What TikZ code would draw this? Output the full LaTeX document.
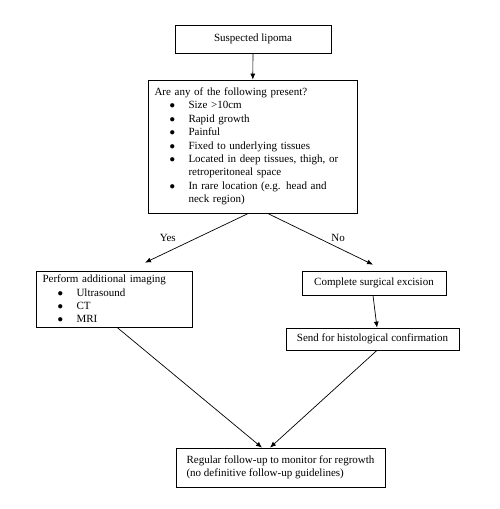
\documentclass[tikz,border=0pt]{standalone}
\usepackage{fontspec}
\setmainfont{Liberation Serif}
\usetikzlibrary{arrows.meta}
\newcommand{\blt}[1]{\hspace*{15pt}\makebox[19pt][l]{$\bullet$}#1}
\begin{document}
\begin{tikzpicture}[x=1pt, y=-1pt, line width=0.7pt,
  every node/.style={font=\fontsize{11}{13.4}\selectfont},
  box/.style={draw, inner xsep=6.5pt, inner ysep=3pt},
  arr/.style={-{Latex[length=6pt, width=5pt]}}]
\useasboundingbox (0,0) rectangle (500,509);
% boxes
\node[box, minimum width=156pt, minimum height=28pt] (susp) at (253,39) {Suspected lipoma};
\node[box, text width=196pt, align=left, minimum height=133pt] (ask) at (252.5,146.5)
  {Are any of the following present?\\
   \blt{Size >10cm}\\
   \blt{Rapid growth}\\
   \blt{Painful}\\
   \blt{Fixed to underlying tissues}\\
   \blt{Located in deep tissues, thigh, or}\\
   \hspace*{34pt}retroperitoneal space\\
   \blt{In rare location (e.g. head and}\\
   \hspace*{34pt}neck region)};
\node[box, text width=143pt, align=left, minimum height=56pt] (img) at (114,299)
  {Perform additional imaging\\
   \blt{Ultrasound}\\
   \blt{CT}\\
   \blt{MRI}};
\node[box, minimum width=144pt, minimum height=24pt] (exc) at (374,283) {Complete surgical excision};
\node[box, minimum width=173pt, minimum height=22pt] (hist) at (372.5,339) {Send for histological confirmation};
\node[box, align=left, minimum width=209pt, minimum height=39pt] (fup) at (280.5,467.5)
  {Regular follow-up to monitor for regrowth\\
   (no definitive follow-up guidelines)};
% connectors
\draw[arr] (susp) -- (ask);
\draw[arr] ([xshift=-4pt]ask.south) -- ([xshift=31pt, yshift=8pt]img.north)
  node[pos=0.78, above, inner sep=6pt, yshift=4pt] (yes) {Yes};
\draw[arr] ([xshift=15pt]ask.south) -- ([xshift=-1pt, yshift=6pt]exc.north)
  node[pos=0.67, above, inner sep=6pt] (no) {No};
\draw[arr] ([xshift=-1pt]exc.south) -- ([xshift=4.5pt]hist.north);
\draw[arr] ([xshift=3pt]img.south) -- ([xshift=-18.5pt]fup.north);
\draw[arr] ([xshift=4.5pt]hist.south) -- ([xshift=-10.5pt]fup.north);
\end{tikzpicture}
\end{document}
